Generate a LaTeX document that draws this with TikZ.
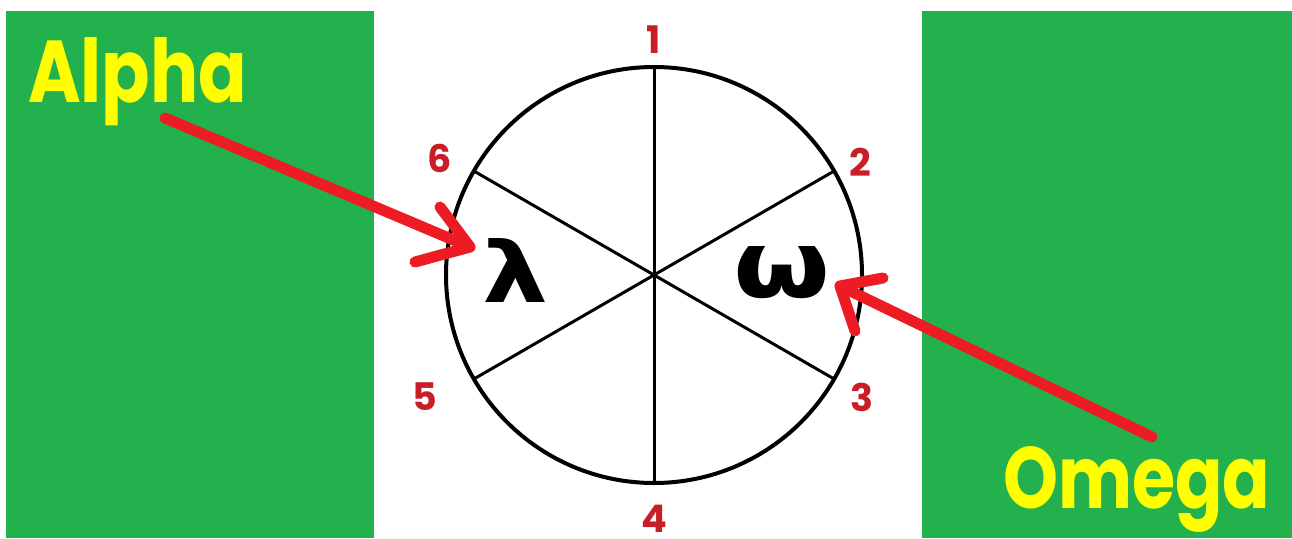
\documentclass[tikz,border=0pt]{standalone}
\usepackage{fontspec}
\setmainfont{Poppins}
\newfontfamily\greekfont{DejaVu Sans}
\definecolor{paintgreen}{RGB}{34,177,76}
\definecolor{paintred}{RGB}{237,28,36}
\definecolor{numred}{RGB}{200,30,40}
\definecolor{labelyellow}{RGB}{255,255,0}
\tikzset{
  panel/.style={fill=paintgreen},
  bigword/.style={text=labelyellow, inner sep=0pt, font=\bfseries\fontsize{80}{80}\selectfont},
  numlabel/.style={text=numred, inner sep=0pt, font=\bfseries\fontsize{38}{38}\selectfont},
  glyph/.style={text=black, inner sep=0pt, font=\greekfont\bfseries\fontsize{80}{80}\selectfont},
  redpen/.style={draw=paintred, line width=11pt, line cap=round, line join=round},
  wheel/.style={circle, draw=black, line width=4pt, minimum size=416pt, inner sep=0pt, outer sep=0pt},
  spoke/.style={draw=black, line width=3pt}
}
\begin{document}
\begin{tikzpicture}[x=1pt, y=-1pt]
\useasboundingbox[fill=white] (0,0) rectangle (1292,538);
% green panels
\fill[panel] (6,11) rectangle (374,538);
\fill[panel] (922,11) rectangle (1292,538);
% wheel
\node[wheel] (c) at (654,275) {};
\draw[spoke] (c.90) -- (c.270);
\draw[spoke] (c.30) -- (c.210);
\draw[spoke] (c.150) -- (c.330);
% numbers
\node[numlabel] (n1) at (654,40) {1};
\node[numlabel] (n2) at (860,162) {2};
\node[numlabel] (n3) at (862,397) {3};
\node[numlabel] (n4) at (654,519) {4};
\node[numlabel] (n5) at (425,397) {5};
\node[numlabel] (n6) at (440,158) {6};
% letters in sectors
\node[glyph] (lam) at (515,270) {\resizebox{66pt}{64pt}{λ}};
\node[glyph] (om) at (782,273) {\resizebox{97pt}{51pt}{ω}};
% labels
\node[bigword, anchor=base west] (alpha) at (28,102) {\resizebox{219pt}{65pt}{Alpha}};
\node[bigword, anchor=base west] (omega) at (1003,508) {\resizebox{267pt}{62pt}{Omega}};
% arrows
\coordinate (atail) at (165,118);
\coordinate (atip) at (470,247);
\coordinate (ab1) at (440,207);
\coordinate (ab2) at (415,262);
\draw[redpen] (atail) -- (atip);
\draw[redpen] (ab1) -- (atip) -- (ab2);
\coordinate (otail) at (1152,437);
\coordinate (otip) at (840,286);
\coordinate (ob1) at (883,278);
\coordinate (ob2) at (855,331);
\draw[redpen] (otail) -- (otip);
\draw[redpen] (ob1) -- (otip) -- (ob2);
\end{tikzpicture}
\end{document}
